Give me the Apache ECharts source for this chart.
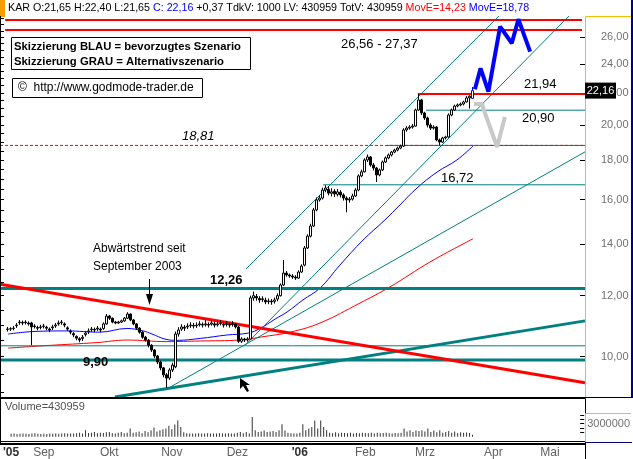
<!DOCTYPE html>
<html><head><meta charset="utf-8">
<script src="https://cdn.jsdelivr.net/npm/echarts@6/dist/echarts.min.js"></script>
<style>html,body{margin:0;padding:0;background:#fff}#c{width:633px;height:459px}</style>
</head><body><div id="c"></div>
<script>
// ---------- data ----------
const slotCount = 195;                       // trading-day slots on the time axis
const monthLabels = ["'05","Sep","Okt","Nov","Dez","'06","Feb","Mrz","Apr","Mai"];
const monthLabelSlots = [2,13,35,56,78,99,121,141,164,183];
const firstCandleSlot = 2;
const priceAxisMin = 8.837, priceAxisMax = 27.70;
const priceLabels = [10,12,14,16,18,20,22,24,26];
const lastClose = 22.16;

// [open, close, low, high]
const candles = [
 // Aug
 [10.85,10.86,10.78,10.93],[10.87,10.86,10.80,10.92],[10.88,10.89,10.82,10.96],[10.97,10.99,10.90,11.06],
 [11.07,11.09,11.00,11.16],[11.08,11.06,10.99,11.14],[11.07,11.09,11.01,11.15],[11.06,11.03,10.97,11.11],
 [11.06,10.93,10.35,11.10],[10.94,10.96,10.88,11.02],[10.91,10.89,10.82,10.97],
 // Sep
 [10.91,10.93,10.85,11.00],[10.95,10.96,10.88,11.03],[10.92,10.89,10.82,10.97],[10.86,10.83,10.76,10.91],
 [10.90,10.93,10.83,11.00],[10.96,10.99,10.90,11.06],[11.03,11.06,10.97,11.14],[11.07,11.09,11.00,11.16],
 [11.03,10.99,10.92,11.08],[10.90,10.86,10.80,10.95],[10.80,10.76,10.69,10.85],[10.71,10.67,10.60,10.76],
 [10.62,10.57,10.50,10.66],[10.55,10.51,10.44,10.60],[10.56,10.60,10.48,10.67],[10.68,10.73,10.62,10.80],
 [10.77,10.80,10.70,10.88],[10.84,10.86,10.77,10.93],[10.85,10.83,10.76,10.91],[10.86,10.89,10.80,10.96],
 [10.86,10.83,10.76,10.91],[10.88,11.03,10.84,11.08],
 // Okt
 [11.03,11.29,11.00,11.36],[11.29,11.22,11.16,11.33],[11.22,11.09,11.05,11.24],[11.09,11.06,11.02,11.13],
 [11.06,11.09,11.03,11.13],[11.09,11.13,11.06,11.17],[11.13,11.22,11.10,11.26],[11.22,11.36,11.19,11.42],
 [11.36,11.16,11.12,11.38],[11.16,11.03,10.99,11.19],[11.03,10.89,10.85,11.06],[10.89,10.76,10.71,10.92],
 [10.76,10.60,10.55,10.79],[10.60,10.51,10.46,10.64],[10.51,10.35,10.28,10.54],[10.35,10.20,10.14,10.38],
 [10.20,10.02,9.96,10.23],[10.02,9.84,9.78,10.05],[9.84,9.67,9.60,9.88],[9.67,9.47,9.40,9.70],
 [9.47,9.38,9.11,9.52],
 // Nov
 [9.38,9.61,9.33,9.66],[9.61,9.75,9.55,9.82],[9.70,10.70,9.66,10.78],[10.70,10.83,10.62,10.92],
 [10.86,10.93,10.80,11.02],[10.92,10.89,10.80,10.99],[10.93,10.96,10.86,11.05],[10.97,10.99,10.90,11.08],
 [10.98,10.96,10.88,11.06],[10.97,10.99,10.90,11.08],[11.00,11.03,10.94,11.12],[11.01,10.99,10.91,11.08],
 [11.00,11.03,10.94,11.16],[11.01,10.99,10.91,11.08],[11.02,11.06,10.97,11.14],[11.03,10.99,10.91,11.10],
 [11.00,11.03,10.94,11.11],[11.04,11.06,10.98,11.15],[11.02,10.99,10.91,11.09],[11.01,11.03,10.94,11.12],
 [11.01,10.99,10.91,11.08],[11.01,11.03,10.94,11.12],
 // Dez
 [11.03,10.93,10.88,11.06],[10.93,10.47,10.42,10.96],[10.47,10.54,10.42,10.60],[10.54,10.51,10.45,10.58],
 [10.51,10.54,10.46,10.60],[10.54,11.92,10.52,12.00],[11.92,12.00,11.82,12.15],[11.97,11.92,11.82,12.06],
 [11.90,11.85,11.75,11.98],[11.86,11.89,11.78,11.98],[11.84,11.78,11.70,11.93],[11.79,11.81,11.70,11.90],
 [11.81,11.78,11.68,11.88],[11.80,11.85,11.72,11.93],[11.88,12.00,11.80,12.08],[12.00,12.39,11.97,12.45],
 [12.39,12.84,12.35,13.35],[12.84,12.77,12.70,12.92],[12.77,12.73,12.66,12.82],[12.73,12.69,12.62,12.80],
 [12.69,12.65,12.58,12.76],
 // Jan
 [12.65,12.88,12.62,12.94],[12.88,13.11,12.85,13.18],[13.15,13.84,13.10,13.92],[13.84,14.34,13.80,14.42],
 [14.34,14.78,14.28,14.88],[14.78,15.51,14.74,15.60],[15.51,15.98,15.45,16.10],[15.98,16.07,15.90,16.20],
 [16.07,16.46,16.00,16.58],[16.46,16.56,16.35,16.70],[16.50,16.31,16.20,16.66],[16.30,16.37,16.15,16.55],
 [16.40,16.27,16.12,16.50],[16.25,16.37,16.15,16.52],[16.35,16.22,16.10,16.45],[16.22,16.07,15.95,16.30],
 [16.07,15.98,15.40,16.15],[15.98,16.02,15.85,16.12],[16.02,16.17,15.95,16.28],[16.17,16.46,16.12,16.55],
 [16.46,17.17,16.40,17.25],[17.17,17.38,17.10,17.50],
 // Feb
 [17.38,18.01,17.35,18.10],[18.01,18.17,17.90,18.30],[18.17,17.74,17.65,18.22],[17.74,17.58,17.45,17.85],
 [17.58,17.22,16.86,17.64],[17.22,17.48,17.15,17.55],[17.48,17.90,17.42,17.98],[17.90,18.12,17.85,18.20],
 [18.12,18.28,18.05,18.36],[18.28,18.44,18.20,18.50],[18.44,18.55,18.38,18.62],[18.55,18.66,18.48,18.74],
 [18.66,18.77,18.60,18.85],[18.77,19.70,18.72,19.80],[19.70,19.81,19.60,19.92],[19.81,19.87,19.72,19.98],
 [19.87,19.93,19.78,20.05],[19.93,20.91,19.90,21.00],[20.91,21.55,20.85,21.94],[21.55,20.73,20.60,21.62],
 // Mrz
 [20.73,20.42,20.30,20.80],[20.42,19.99,19.85,20.50],[19.99,19.81,19.70,20.10],[19.81,19.87,19.72,19.98],
 [19.87,19.12,19.05,19.92],[19.12,19.00,18.81,19.20],[19.00,19.23,18.95,19.30],[19.23,19.29,19.15,19.36],
 [19.29,20.60,19.25,20.70],[20.60,20.91,20.52,21.00],[20.91,21.16,20.85,21.25],[21.16,21.23,21.08,21.32],
 [21.23,21.29,21.15,21.38],[21.29,21.42,21.20,21.50],[21.42,21.68,21.38,21.80],[21.68,21.79,21.00,21.85],
 [21.65,22.16,21.65,22.40]
];

// daily volume (thousands)
const volumes = [
 650,700,600,650,700,650,600,700,800,650,600,
 650,600,700,650,700,650,750,800,700,750,700,800,900,750,1500,850,900,1100,800,900,850,1000,
 1100,800,750,900,1050,800,900,1900,900,1000,1200,800,1300,1000,1500,2100,1200,1500,1700,1900,2500,
 1700,2800,3750,2200,1000,800,750,700,750,800,700,750,800,700,750,700,800,750,700,800,750,700,
 900,1100,800,1100,700,4500,1500,1100,1200,1400,1100,1200,1300,1100,1500,2850,1400,900,800,700,750,
 900,2850,1500,1900,2250,3750,1900,3750,2250,1500,900,800,1000,750,900,850,800,900,750,850,800,900,
 850,800,900,750,900,800,850,900,800,750,850,800,900,1900,1200,1500,1100,1400,1300,1500,
 1200,1900,1100,1400,1000,1500,900,1100,1300,900,1200,800,1000,900,950,850,431
];

// moving averages [slot, price]
const movEBlue = [[2.2,10.70],[10.5,10.78],[21.8,10.80],[32.8,10.76],[41.8,10.88],[47.2,10.80],[50.2,10.70],
 [54.5,10.54],[58.5,10.50],[66.2,10.56],[75.2,10.67],[82.2,10.73],[86.2,10.88],[91.2,11.19],[95.2,11.43],
 [100.5,11.85],[106.2,12.28],[112.8,13.15],[120.5,14.17],[127.8,15.05],[132.8,15.74],[138.5,16.56],
 [145.2,17.37],[151.8,18.01],[157.2,18.78]];
const movERed = [[2.2,10.26],[15.5,10.34],[31.8,10.43],[41.8,10.51],[55.2,10.46],[66.2,10.48],[79.5,10.51],
 [86.8,10.61],[96.2,10.76],[106.2,11.06],[119.5,11.74],[129.5,12.32],[142.8,13.27],[157.2,14.23]];

// horizontal levels [price, fromSlot, toSlot]
const redLevels = [[27.37,1.2,193.5],[26.56,1.2,193.5],[21.94,138.8,194.5]];
const redDashedLevels = [[18.81,-0.5,194.5]];
const tealThinLevels = [[20.90,141.5,194.5],[18.81,128.5,194.5],[16.72,107.2,194.5],[10.33,-0.5,194.5]];
const tealThickLevels = [[12.26,-0.5,194.5],[9.90,-0.5,194.5]];

// trend lines [[slot, price],[slot, price]]
const downTrend = [[-0.5,12.42],[194.5,9.25]];
const upTrend = [[37.8,8.863],[194.5,11.13]];
const channelLines = [
 [[81.5,13.00],[165.8,27.70]],
 [[81.2,10.35],[189.5,27.79]],
 [[54.5,9.05],[194.5,18.45]]
];

// scenario sketches [slot, price]
const scenarioBlue = [[157.8,22.25],[159.7,23.69],[162.3,22.09],[166.2,26.83],[170.1,25.53],[172.3,27.43],[176.2,24.90]];
const scenarioGrey = [[157.5,21.29],[160.2,21.29],[160.8,20.91],[165.2,18.72],[167.8,20.48]];

// ---------- build ----------
const L = Math.log;
const categories = Array.from({length: slotCount}, (_, i) => String(i));
const candleData = [];
const volumeData = [];
for (let i = 0; i < slotCount; i++) {
  const k = i - firstCandleSlot;
  if (k >= 0 && k < candles.length) {
    const c = candles[k];
    const item = {value: [L(c[0]), L(c[1]), L(c[2]), L(c[3])]};
    if (k === candles.length - 1) item.itemStyle = {borderColor: '#0000ff', borderColor0: '#0000ff', color: '#fff'};
    candleData.push(item);
    volumeData.push(volumes[k] * 1000);
  } else {
    candleData.push(['-','-','-','-']);
    volumeData.push('-');
  }
}
const toLn = pts => pts.map(p => [p[0], L(p[1])]);
const fmtPrice = v => Math.exp(v).toFixed(2).replace('.', ',');
const minorTicks = [];
for (let p = 9; p <= 27.5; p += 0.5) minorTicks.push(L(p));

const series = [];
function lineSeries(pts, color, width, extra) {
  series.push(Object.assign({
    type: 'line', xAxisIndex: 1, yAxisIndex: 0, data: toLn(pts), showSymbol: false, symbol: 'none',
    silent: true, animation: false, z: 2,
    lineStyle: {color: color, width: width}
  }, extra || {}));
}
lineSeries(movERed, '#ff0000', 1, {smooth: 0.4});
lineSeries(movEBlue, '#0000ff', 1, {smooth: 0.4});
tealThinLevels.forEach(l => lineSeries([[l[1], l[0]], [l[2], l[0]]], '#008080', 1));
tealThickLevels.forEach(l => lineSeries([[l[1], l[0]], [l[2], l[0]]], '#008080', 3));
channelLines.forEach(c => lineSeries(c, '#008080', 1));
lineSeries(upTrend, '#008080', 3);
lineSeries(downTrend, '#ff0000', 3);
redLevels.forEach(l => lineSeries([[l[1], l[0]], [l[2], l[0]]], '#ff0000', 2));
redDashedLevels.forEach(l => {
  lineSeries([[l[1], l[0]], [l[2], l[0]]], '#ff0000', 1);
  series[series.length-1].lineStyle.type = [3, 2];
});

series.push({
  type: 'candlestick', xAxisIndex: 0, yAxisIndex: 0, data: candleData, barWidth: 3, z: 3,
  silent: true, animation: false,
  itemStyle: {color: '#ffffff', color0: '#000000', borderColor: '#000000', borderColor0: '#000000', borderWidth: 1}
});
lineSeries(scenarioGrey, '#c8c8c8', 4, {z: 5});
lineSeries(scenarioBlue, '#0000ff', 4, {z: 5});
series.push({
  type: 'bar', xAxisIndex: 2, yAxisIndex: 3, data: volumeData, barWidth: 1, silent: true, animation: false,
  itemStyle: {color: '#333333'}
});

const chart = echarts.init(document.getElementById('c'), null, {renderer: 'canvas'});
const gridMain = {left: 0, right: 48, top: 16, height: 382};
const gridVol = {left: 0, right: 48, top: 399, height: 43};
const FONT = 'Liberation Sans, Arial, sans-serif';

chart.setOption({
  animation: false,
  backgroundColor: '#ffffff',
  grid: [gridMain, gridVol],
  xAxis: [
    {type: 'category', gridIndex: 0, data: categories, boundaryGap: true, show: false},
    {type: 'value', gridIndex: 0, min: -0.5, max: slotCount - 0.5, show: false},
    {type: 'category', gridIndex: 1, data: categories, boundaryGap: true,
     axisLine: {show: false}, axisTick: {show: false}, splitLine: {show: false},
     axisLabel: {
       interval: (idx) => monthLabelSlots.indexOf(idx) >= 0,
       margin: 6, fontFamily: FONT, fontSize: 12, color: '#606060',
       formatter: (v, idx) => {
         const j = monthLabelSlots.indexOf(Number(v));
         if (j < 0) return '';
         const t = monthLabels[j];
         return t.charAt(0) === "'" ? '{y|' + t + '}' : t;
       },
       rich: {y: {fontWeight: 'bold', color: '#303030', fontSize: 12, fontFamily: FONT}}
     }}
  ],
  yAxis: [
    {type: 'value', gridIndex: 0, position: 'right', min: L(priceAxisMin), max: L(priceAxisMax),
     splitLine: {show: false}, axisLine: {show: false},
     axisTick: {show: true, inside: true, length: 3, customValues: minorTicks, lineStyle: {color: '#000'}},
     axisLabel: {customValues: priceLabels.map(L), formatter: fmtPrice, margin: 16,
       fontFamily: FONT, fontSize: 11, color: '#707070'}},
    {type: 'value', gridIndex: 0, position: 'right', min: L(priceAxisMin), max: L(priceAxisMax),
     splitLine: {show: false}, axisLine: {show: false}, axisLabel: {show: false},
     axisTick: {show: true, inside: true, length: 5, customValues: priceLabels.map(L), lineStyle: {color: '#000'}}},
    {type: 'value', gridIndex: 0, position: 'left', min: L(priceAxisMin), max: L(priceAxisMax),
     splitLine: {show: false}, axisLine: {show: false}, axisLabel: {show: false},
     axisTick: {show: true, inside: true, length: 4, customValues: minorTicks, lineStyle: {color: '#000'}}},
    {type: 'value', gridIndex: 1, position: 'right', min: -1000000, max: 8675000,
     splitLine: {show: false}, axisLine: {show: false},
     axisTick: {show: true, inside: true, length: 4, customValues: [1e6,2e6,3e6,4e6,5e6], lineStyle: {color: '#000'}},
     axisLabel: {customValues: [3e6], formatter: v => String(Math.round(v)), margin: 3,
       fontFamily: FONT, fontSize: 11, color: '#707070'}}
  ],
  series: series
});

// ---------- annotations ----------
const yLast = chart.convertToPixel({yAxisIndex: 0}, L(lastClose));
function txt(x, y, s, opt) {
  return Object.assign({type: 'text', x: x, y: y, z: 50, silent: true,
    style: Object.assign({text: s, fill: '#000', font: '13px ' + FONT, textVerticalAlign: 'middle'}, opt || {})});
}
const g = [];
// header
g.push({type: 'rect', shape: {x: 0, y: 0, width: 633, height: 16}, style: {fill: '#fff'}, z: 40, silent: true});
g.push({type: 'rect', shape: {x: 0, y: 0, width: 5, height: 17}, style: {fill: '#f0a000'}, z: 41, silent: true});
g.push({type: 'line', shape: {x1: 632, y1: 0, x2: 632, y2: 398}, style: {stroke: '#000080', lineWidth: 2}, z: 41, silent: true});
g.push({type: 'text', x: 8, y: 8, z: 45, silent: true, style: {
  text: '{k|KAR O:21,65 H:22,40 L:21,65 }{b|C: 22,16}{k| +0,37 TdkV: 1000 LV: 430959 TotV: 430959 }{r|MovE=14,23}{b| MovE=18,78}',
  rich: {k: {fill: '#000'}, b: {fill: '#0000ff'}, r: {fill: '#ff0000'}},
  font: '10.7px ' + FONT, textVerticalAlign: 'middle'}});
// right axis frames
g.push({type: 'polyline', shape: {points: [[585.5, 397], [585.5, 16.5], [631, 16.5]]}, style: {stroke: '#f0c000', fill: null, lineWidth: 1}, z: 41, silent: true});
g.push({type: 'line', shape: {x1: 0, y1: 397.5, x2: 632, y2: 397.5}, style: {stroke: '#000', lineWidth: 1}, z: 41, silent: true});
g.push({type: 'line', shape: {x1: 0.5, y1: 16, x2: 0.5, y2: 444}, style: {stroke: '#000', lineWidth: 1}, z: 41, silent: true});
g.push({type: 'rect', shape: {x: 0.5, y: 398.5, width: 585, height: 43}, style: {stroke: '#000', fill: null, lineWidth: 1}, z: 41, silent: true});
g.push({type: 'polyline', shape: {points: [[585.5, 442], [585.5, 413.5], [631, 413.5]]}, style: {stroke: '#f0c000', fill: null, lineWidth: 1}, z: 41, silent: true});
g.push({type: 'line', shape: {x1: 585, y1: 442.5, x2: 632, y2: 442.5}, style: {stroke: '#000080', lineWidth: 1}, z: 41, silent: true});
g.push({type: 'line', shape: {x1: 0, y1: 444, x2: 586, y2: 444}, style: {stroke: '#000', lineWidth: 2}, z: 41, silent: true});
g.push({type: 'line', shape: {x1: 585.5, y1: 443, x2: 585.5, y2: 459}, style: {stroke: '#000', lineWidth: 1}, z: 41, silent: true});
// last price marker
g.push({type: 'rect', shape: {x: 585, y: yLast - 8, width: 31, height: 16}, style: {fill: '#000'}, z: 46, silent: true});
g.push(txt(600.5, yLast, '22,16', {fill: '#fff', font: '11px ' + FONT, textAlign: 'center'}));
// volume title
g.push(txt(5, 407, 'Volume=430959', {fill: '#505050', font: '11px ' + FONT}));
// legend boxes
g.push({type: 'rect', shape: {x: 11.5, y: 37.5, width: 239, height: 32}, style: {fill: '#fff', stroke: '#000', lineWidth: 1}, z: 48, silent: true});
g.push(txt(14, 47, 'Skizzierung BLAU = bevorzugtes Szenario', {font: 'bold 11.3px ' + FONT}));
g.push(txt(14, 62, 'Skizzierung GRAU = Alternativszenario', {font: 'bold 11.3px ' + FONT}));
g.push({type: 'rect', shape: {x: 12.5, y: 78.5, width: 190, height: 19}, style: {fill: '#fff', stroke: '#000', lineWidth: 1}, z: 48, silent: true});
g.push(txt(18, 88, '\u00a9  http://www.godmode-trader.de', {font: '12px ' + FONT}));
// level labels
g.push(txt(341, 44, '26,56 - 27,37'));
g.push(txt(524, 84, '21,94'));
g.push(txt(522, 118, '20,90'));
g.push(txt(182, 136, '18,81', {font: 'italic 13px ' + FONT}));
g.push(txt(441, 178, '16,72'));
g.push(txt(210, 280, '12,26', {font: 'bold 13px ' + FONT}));
g.push(txt(83, 362, '9,90', {font: 'bold 13px ' + FONT}));
g.push(txt(93, 249, 'Abw\u00e4rtstrend seit', {font: '12px ' + FONT}));
g.push(txt(93, 267, 'September 2003', {font: '12px ' + FONT}));
// arrows
g.push({type: 'line', shape: {x1: 149.5, y1: 279, x2: 149.5, y2: 298}, style: {stroke: '#000', lineWidth: 1}, z: 48, silent: true});
g.push({type: 'polygon', shape: {points: [[146, 294], [153, 294], [149.5, 305]]}, style: {fill: '#000'}, z: 48, silent: true});
g.push({type: 'polygon', shape: {points: [[240, 378], [240, 389], [243, 386], [247, 392], [249, 391], [246, 385], [250, 385]]}, style: {fill: '#000'}, z: 48, silent: true});

chart.setOption({graphic: {elements: g}});
</script>
</body></html>
